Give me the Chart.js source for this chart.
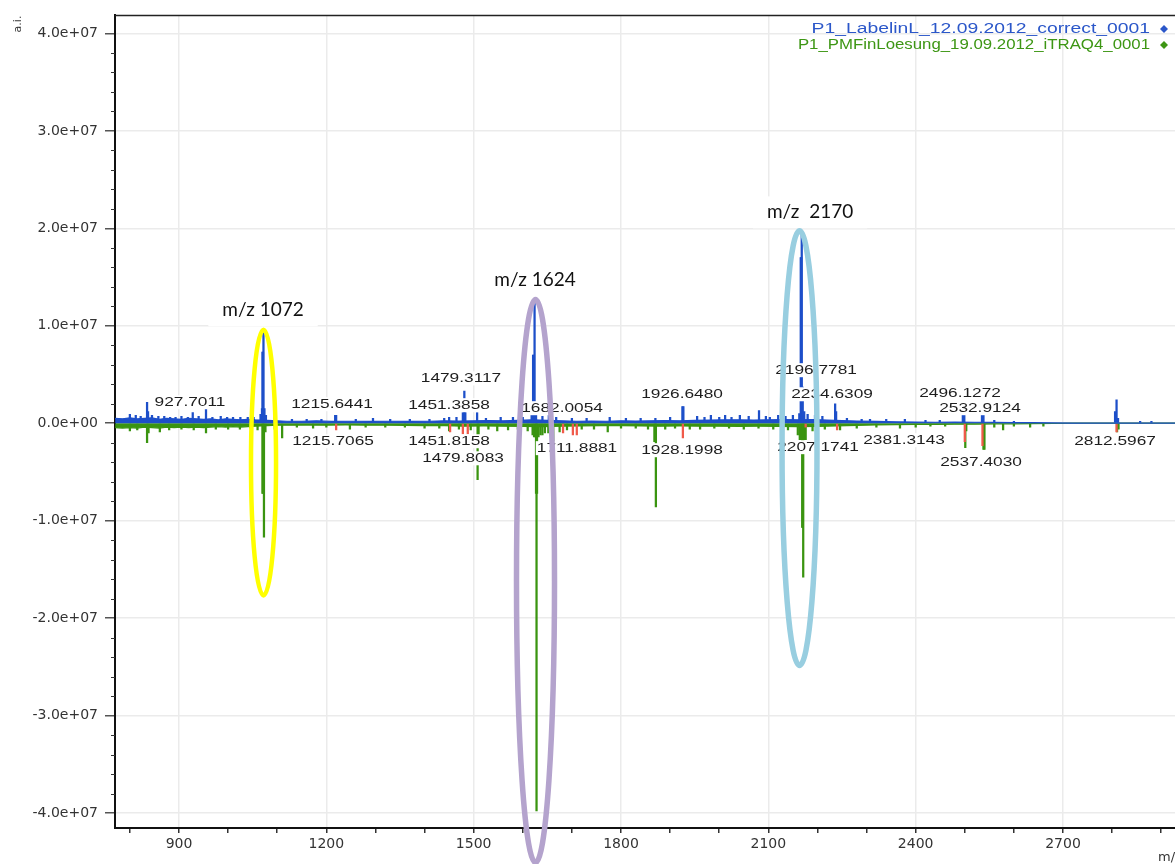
<!DOCTYPE html>
<html>
<head>
<meta charset="utf-8">
<script src="https://cdn.jsdelivr.net/npm/chart.js@4.4.1/dist/chart.umd.min.js"></script>
<style>
  html, body { margin: 0; padding: 0; background: #fff; }
  #wrap { width: 1175px; height: 864px; position: relative; }
</style>
</head>
<body>
<div id="wrap"><canvas id="spec"></canvas></div>
<script>
/* ===== Mirrored MALDI spectra ===== */

const seriesNames = ['P1_LabelinL_12.09.2012_correct_0001', 'P1_PMFinLoesung_19.09.2012_iTRAQ4_0001'];

// axis ticks
const xTickValues = [800, 900, 1000, 1100, 1200, 1300, 1400, 1500, 1600, 1700, 1800, 1900, 2000, 2100, 2200, 2300, 2400, 2500, 2600, 2700, 2800, 2900];
const yMajorTicks = [-4e7, -3e7, -2e7, -1e7, 0, 1e7, 2e7, 3e7, 4e7];
const yMinorPerMajor = 5;

// blue spectrum (upper), baseline envelope
const blueBaseMz = [770, 785, 800, 815, 830, 845, 860, 875, 890, 905, 920, 935, 950, 965, 980, 995, 1010, 1025, 1040, 1055, 1080, 1100, 1120, 1150, 1180, 1210, 1250, 1290, 1330, 1370, 1410, 1440, 1470, 1500, 1530, 1560, 1590, 1620, 1650, 1680, 1710, 1740, 1770, 1800, 1830, 1860, 1890, 1920, 1950, 1980, 2010, 2040, 2070, 2100, 2130, 2160, 2190, 2220, 2250, 2280, 2320, 2360, 2400, 2440, 2480, 2520, 2560, 2600, 2640, 2680, 2720, 2760, 2930];
const blueBaseInt = [5e5, 4.5e5, 5.5e5, 4.5e5, 5e5, 5.5e5, 4e5, 5e5, 4.5e5, 4e5, 5e5, 4.5e5, 4e5, 4.5e5, 3.5e5, 4.5e5, 4e5, 3.5e5, 4e5, 3.5e5, 3e5, 2.5e5, 2e5, 2e5, 2.5e5, 1.8e5, 2e5, 1.8e5, 2e5, 1.8e5, 2e5, 2.5e5, 2.2e5, 2.5e5, 2.8e5, 2.5e5, 3e5, 3.5e5, 3e5, 2.5e5, 2e5, 2.2e5, 2e5, 2.5e5, 2.2e5, 2.5e5, 2.8e5, 2.5e5, 3e5, 3.2e5, 3.5e5, 3.5e5, 3.2e5, 3.5e5, 3.8e5, 3.5e5, 3.8e5, 3.2e5, 2.8e5, 2.2e5, 1.8e5, 1.5e5, 1.2e5, 1e5, 1.2e5, 1e5, 0.8e5, 0.7e5, 0.5e5, 0.3e5, 0.1e5, 0, 0];

// blue spectrum peaks
const blueStickMz = [800, 812, 822, 835, 837, 845, 858, 870, 882, 893, 905, 918, 928, 940, 955, 968, 985, 998, 1010, 1025, 1040, 1052, 1066, 1069, 1070, 1071, 1072, 1074, 1077, 1095, 1130, 1160, 1190, 1218, 1220, 1260, 1295, 1330, 1370, 1410, 1440, 1450, 1465, 1478, 1481, 1483, 1507, 1525, 1555, 1580, 1600, 1618, 1621, 1622, 1624, 1627, 1640, 1653, 1668, 1700, 1730, 1777, 1810, 1840, 1870, 1900, 1925, 1927, 1955, 1970, 1983, 2000, 2012, 2025, 2042, 2060, 2081, 2095, 2103, 2120, 2135, 2150, 2163, 2166, 2167, 2168, 2170, 2173, 2180, 2195, 2210, 2236, 2238, 2260, 2290, 2307, 2340, 2378, 2420, 2449, 2496, 2499, 2535, 2538, 2560, 2600, 2806, 2809, 2812, 2857, 2880];
const blueStickInt = [9e5, 8e5, 7e5, 2.15e6, 1.2e6, 8e5, 7e5, 7e5, 6e5, 6e5, 7e5, 6e5, 1.1e6, 7e5, 1.5e6, 6e5, 7e5, 6e5, 6e5, 6e5, 6e5, 6e5, 9e5, 1.5e6, 7.3e6, 7.3e6, 9.3e6, 1.5e6, 8e5, 8e5, 4e5, 4e5, 4e5, 8e5, 8e5, 4e5, 5e5, 4e5, 4e5, 4e5, 5e5, 6e5, 6e5, 1.1e6, 3.3e6, 1.1e6, 1.1e6, 5e5, 6e5, 6e5, 6e5, 9e5, 7e6, 7e6, 1.27e7, 1.2e6, 7e5, 9e5, 6e5, 5e5, 5e5, 6e5, 5e5, 5e5, 5e5, 6e5, 1.7e6, 1.7e6, 7e5, 6e5, 8e5, 6e5, 8e5, 6e5, 8e5, 7e5, 1.3e6, 7e5, 6e5, 8e5, 7e5, 8e5, 1e6, 1.7e7, 1.7e7, 1.98e7, 3.7e6, 1.2e6, 9e5, 8e5, 7e5, 2e6, 1.2e6, 5e5, 4e5, 4e5, 4e5, 4e5, 3e5, 3e5, 8e5, 8e5, 8e5, 8e5, 3e5, 2e5, 1.2e6, 2.4e6, 5e5, 2e5, 2e5];

// green spectrum (mirrored, lower), baseline envelope
const greenBaseMz = [770, 785, 800, 815, 830, 845, 860, 875, 890, 905, 920, 935, 950, 965, 980, 995, 1010, 1025, 1040, 1055, 1080, 1100, 1130, 1160, 1200, 1240, 1280, 1320, 1360, 1400, 1440, 1480, 1520, 1560, 1600, 1640, 1680, 1720, 1760, 1800, 1840, 1880, 1920, 1960, 2000, 2040, 2080, 2120, 2160, 2200, 2240, 2280, 2320, 2360, 2400, 2440, 2480, 2520, 2560, 2600, 2640, 2680, 2720, 2930];
const greenBaseInt = [-4.5e5, -5e5, -4.5e5, -5e5, -4e5, -4.5e5, -5e5, -4e5, -4.5e5, -4e5, -4.5e5, -4e5, -4.5e5, -4e5, -3.5e5, -4e5, -3.5e5, -4e5, -3.5e5, -3e5, -2.5e5, -2e5, -2e5, -1.8e5, -2e5, -1.8e5, -2e5, -2e5, -2.2e5, -2.5e5, -2.5e5, -3e5, -2.8e5, -3e5, -3.2e5, -3.5e5, -3e5, -2.8e5, -2.5e5, -2.5e5, -2.8e5, -3e5, -2.8e5, -3e5, -3e5, -3.2e5, -3e5, -3.2e5, -3.5e5, -3.2e5, -2.8e5, -2.2e5, -1.8e5, -1.5e5, -1.2e5, -1.2e5, -1e5, -1e5, -0.8e5, -0.6e5, -0.4e5, -0.2e5, 0, 0];

// green spectrum peaks
const greenStickMz = [800, 815, 835, 838, 861, 880, 905, 930, 955, 975, 1000, 1024, 1045, 1060, 1070, 1071, 1073, 1076, 1095, 1110, 1140, 1173, 1200, 1248, 1280, 1320, 1360, 1400, 1430, 1450, 1470, 1494, 1508, 1510, 1530, 1548, 1570, 1590, 1610, 1620, 1623, 1626, 1627, 1628, 1629, 1632, 1636, 1640, 1645, 1652, 1660, 1662, 1675, 1690, 1720, 1745, 1773, 1800, 1830, 1855, 1868, 1870, 1871, 1890, 1910, 1940, 1961, 1990, 2020, 2050, 2080, 2110, 2140, 2160, 2164, 2166, 2169, 2170, 2171, 2173, 2176, 2190, 2215, 2246, 2280, 2320, 2368, 2400, 2430, 2460, 2501, 2503, 2538, 2540, 2560, 2578, 2600, 2633, 2660, 2810, 2813];
const greenStickInt = [-8e5, -7e5, -2e6, -1e6, -9e5, -7e5, -6e5, -7e5, -1e6, -6e5, -6e5, -6e5, -5e5, -7e5, -7.2e6, -7.2e6, -1.17e7, -9e5, -6e5, -1.5e6, -4e5, -5e5, -4e5, -6e5, -4e5, -4e5, -4e5, -5e5, -5e5, -8e5, -6e5, -7e5, -5.8e6, -1.3e6, -6e5, -8e5, -7e5, -6e5, -8e5, -1.2e6, -1.4e6, -1.4e6, -7.2e6, -3.98e7, -7.2e6, -1.4e6, -1.2e6, -1.2e6, -1e6, -1e6, -4.5e6, -4.5e6, -9e5, -7e5, -6e5, -6e5, -9e5, -5e5, -5e5, -6e5, -1.9e6, -1.9e6, -8.6e6, -6e5, -5e5, -6e5, -6e5, -5e5, -5e5, -6e5, -5e5, -6e5, -7e5, -1.2e6, -1.7e6, -1.7e6, -1.07e7, -1.07e7, -1.58e7, -1.7e6, -1.7e6, -8e5, -6e5, -7e5, -5e5, -4e5, -5e5, -4e5, -3e5, -3e5, -2.5e6, -8e5, -2.7e6, -2.7e6, -4e5, -7e5, -3e5, -4e5, -3e5, -9e5, -6e5];

// red (unmatched) peaks
const redStickMz = [1220, 1452, 1478, 1488, 1682, 1702, 1710, 1926, 2176, 2240, 2500, 2536, 2809];
const redStickInt = [-7e5, -9e5, -1.1e6, -1.1e6, -1e6, -1.2e6, -1.2e6, -1.5e6, -4e5, -7e5, -1.9e6, -2.3e6, -9e5];

// peak annotations
const peakLabelText = ['927.7011', '1215.6441', '1215.7065', '1479.3117', '1451.3858', '1451.8158', '1479.8083', '1682.0054', '1711.8881', '1926.6480', '1928.1998', '2196.7781', '2234.6309', '2207.1741', '2381.3143', '2496.1272', '2532.9124', '2537.4030', '2812.5967'];
const peakLabelMz = [922.4, 1211.6, 1213.6, 1474.2, 1449.8, 1449.8, 1478.3, 1680.0, 1710.4, 1924.3, 1924.3, 2197.1, 2229.7, 2201.2, 2376.3, 2490.3, 2531.0, 2533.1, 2806.0];
const peakLabelInt = [2.15e6, 1.95e6, -1.85e6, 4.6e6, 1.85e6, -1.85e6, -3.6e6, 1.54e6, -2.56e6, 2.97e6, -2.77e6, 5.44e6, 2.97e6, -2.46e6, -1.74e6, 3.08e6, 1.54e6, -4.0e6, -1.85e6];

// highlighted regions
const hlText = ['m/z 1072', 'm/z 1624', 'm/z  2170'];
const hlTextMz = [1071.1, 1625, 2184.9];
const hlTextInt = [1.159e7, 1.467e7, 2.164e7];
const hlMz = [1072.1, 1625.9, 2163.5];
const hlInt = [-4.05e6, -1.62e7, -2.56e6];
const hlRxMz = [25.5, 38.7, 35.6];
const hlRyInt = [1.364e7, 2.89e7, 2.23e7];
const hlColor = ['#ffff00', '#b4a3cd', '#98cee0'];

const BLUE = '#1d4fc9';
const GREEN = '#3a9410';
const RED = '#f05a4a';

function pts(xs, ys) {
  return xs.map((x, i) => ({ x: x, y: ys[i] }));
}

// y ticks: majors plus evenly split minor steps
const yTickValues = [];
for (let i = 0; i < yMajorTicks.length; i++) {
  yTickValues.push(yMajorTicks[i]);
  if (i < yMajorTicks.length - 1) {
    const step = (yMajorTicks[i + 1] - yMajorTicks[i]) / yMinorPerMajor;
    for (let k = 1; k < yMinorPerMajor; k++) yTickValues.push(yMajorTicks[i] + k * step);
  }
}

function fmtExp(v) {
  if (Math.abs(v) < 1) return '0.0e+00';
  return v.toExponential(1).replace(/e([+-])(\d)$/, 'e$10$2');
}

function isMajorY(v) { return yMajorTicks.includes(v); }
function isMajorX(v) { return Math.round(v) % 300 === 0; }

function stretchText(ctx, text, x, y, sx, align) {
  ctx.save();
  ctx.translate(x, y);
  ctx.scale(sx, 1);
  ctx.textAlign = align;
  ctx.textBaseline = 'middle';
  ctx.fillText(text, 0, 0);
  ctx.restore();
}

// short minor ticks on the y axis + top frame line
const framePlugin = {
  id: 'frame',
  afterDraw(chart) {
    const ctx = chart.ctx, y = chart.scales.y, a = chart.chartArea;
    ctx.save();
    ctx.strokeStyle = '#333';
    ctx.lineWidth = 1;
    y.ticks.forEach(t => {
      if (isMajorY(t.value)) return;
      const py = Math.round(y.getPixelForValue(t.value)) + 0.5;
      ctx.beginPath();
      ctx.moveTo(a.left - 4, py);
      ctx.lineTo(a.left, py);
      ctx.stroke();
    });
    ctx.strokeStyle = '#222';
    ctx.lineWidth = 1.5;
    ctx.beginPath();
    ctx.moveTo(a.left, a.top);
    ctx.lineTo(a.right, a.top);
    ctx.stroke();
    ctx.restore();
  }
};

// m/z labels on peaks, with white background
const peakLabelPlugin = {
  id: 'peakLabels',
  afterDatasetsDraw(chart) {
    const ctx = chart.ctx, xs = chart.scales.x, ys = chart.scales.y;
    ctx.save();
    ctx.font = '13px "Liberation Sans", Arial, sans-serif';
    const sx = 1.33;
    peakLabelText.forEach((t, i) => {
      const px = xs.getPixelForValue(peakLabelMz[i]);
      const py = ys.getPixelForValue(peakLabelInt[i]);
      const w = ctx.measureText(t).width * sx;
      ctx.fillStyle = '#fff';
      ctx.fillRect(px - w / 2 - 1, py - 7, w + 2, 14);
      ctx.fillStyle = '#1e1e1e';
      stretchText(ctx, t, px, py + 0.5, sx, 'center');
    });
    ctx.restore();
  }
};

// ellipses, callouts, legend and axis names
const overlayPlugin = {
  id: 'overlay',
  afterDraw(chart) {
    const ctx = chart.ctx, xs = chart.scales.x, ys = chart.scales.y;
    ctx.save();
    // callout text
    ctx.font = '19px Lato, "Open Sans", sans-serif';
    hlText.forEach((t, i) => {
      const px = xs.getPixelForValue(hlTextMz[i]);
      const py = ys.getPixelForValue(hlTextInt[i]);
      const w = ctx.measureText(t).width;
      ctx.fillStyle = '#fff';
      ctx.fillRect(px - w / 2 - 14, py - 16, w + 28, 32);
      ctx.fillStyle = '#111';
      ctx.textAlign = 'center';
      ctx.textBaseline = 'middle';
      ctx.fillText(t, px, py);
    });
    // ellipses
    hlMz.forEach((m, i) => {
      const cx = xs.getPixelForValue(m);
      const cy = ys.getPixelForValue(hlInt[i]);
      const rx = Math.abs(xs.getPixelForValue(m + hlRxMz[i]) - cx);
      const ry = Math.abs(ys.getPixelForValue(hlInt[i] + hlRyInt[i]) - cy);
      ctx.strokeStyle = hlColor[i];
      ctx.lineWidth = i === 0 ? 4.5 : 5.5;
      ctx.beginPath();
      ctx.ellipse(cx, cy, rx, ry, 0, 0, Math.PI * 2);
      ctx.stroke();
    });
    // legend
    ctx.font = '14px "Liberation Sans", Arial, sans-serif';
    const legY = [29, 45];
    const legCol = ['#2b57c9', '#3d9614'];
    const legSx = [1.38, 1.2];
    [0, 2].forEach((di, i) => {
      ctx.fillStyle = legCol[i];
      stretchText(ctx, chart.data.datasets[di].label, 1150, legY[i], legSx[i], 'right');
      ctx.beginPath();
      ctx.moveTo(1164, legY[i] - 4);
      ctx.lineTo(1168, legY[i]);
      ctx.lineTo(1164, legY[i] + 4);
      ctx.lineTo(1160, legY[i]);
      ctx.closePath();
      ctx.fill();
    });
    // axis names
    ctx.fillStyle = '#333';
    ctx.font = '11px "DejaVu Sans", sans-serif';
    ctx.save();
    ctx.translate(18, 24);
    ctx.rotate(-Math.PI / 2);
    ctx.textAlign = 'center';
    ctx.textBaseline = 'middle';
    ctx.fillText('a.i.', 0, 0);
    ctx.restore();
    ctx.font = '13px "DejaVu Sans", sans-serif';
    ctx.textAlign = 'left';
    ctx.textBaseline = 'middle';
    ctx.fillText('m/z', 1158, 858);
    ctx.restore();
  }
};

const tickFont = { family: '"DejaVu Sans", sans-serif', size: 14 };

new Chart(document.getElementById('spec'), {
  type: 'line',
  data: {
    datasets: [
      { type: 'line', label: seriesNames[0], data: pts(blueBaseMz, blueBaseInt), borderColor: BLUE, backgroundColor: BLUE, borderWidth: 1.2, pointRadius: 0, fill: 'origin', tension: 0, order: 1 },
      { type: 'bar', label: 'blue peaks', data: pts(blueStickMz, blueStickInt), backgroundColor: BLUE, barThickness: 1.6, grouped: false, borderWidth: 0, order: 2 },
      { type: 'line', label: seriesNames[1], data: pts(greenBaseMz, greenBaseInt), borderColor: GREEN, backgroundColor: GREEN, borderWidth: 1.2, pointRadius: 0, fill: 'origin', tension: 0, order: 5 },
      { type: 'bar', label: 'green peaks', data: pts(greenStickMz, greenStickInt), backgroundColor: GREEN, barThickness: 1.6, grouped: false, borderWidth: 0, order: 4 },
      { type: 'bar', label: 'red peaks', data: pts(redStickMz, redStickInt), backgroundColor: RED, barThickness: 1.6, grouped: false, borderWidth: 0, order: 3 }
    ]
  },
  options: {
    responsive: true,
    maintainAspectRatio: false,
    animation: false,
    layout: { padding: { top: 15, right: 0, bottom: 0, left: 0 } },
    plugins: { legend: { display: false }, tooltip: { enabled: false } },
    scales: {
      x: {
        type: 'linear',
        min: 769.7,
        max: 2928,
        offset: false,
        afterFit: s => { s.height = 36; },
        afterBuildTicks: s => { s.ticks = xTickValues.map(v => ({ value: v })); },
        border: { color: '#111', width: 2 },
        grid: {
          offset: false,
          color: c => (c.tick && isMajorX(c.tick.value)) ? '#ebebeb' : 'rgba(0,0,0,0)',
          tickColor: '#333',
          tickLength: 5,
          lineWidth: 1.5
        },
        ticks: {
          autoSkip: false,
          maxRotation: 0,
          padding: 3,
          color: '#333',
          font: tickFont,
          callback: v => isMajorX(v) ? String(Math.round(v)) : ''
        }
      },
      y: {
        type: 'linear',
        min: -4.154e7,
        max: 4.185e7,
        afterFit: s => { s.width = 115; },
        afterBuildTicks: s => { s.ticks = yTickValues.map(v => ({ value: v })); },
        border: { color: '#111', width: 2 },
        grid: {
          color: c => (c.tick && isMajorY(c.tick.value)) ? '#ebebeb' : 'rgba(0,0,0,0)',
          tickColor: c => (c.tick && isMajorY(c.tick.value)) ? '#555' : 'rgba(0,0,0,0)',
          tickLength: 10,
          lineWidth: 1.5
        },
        ticks: {
          autoSkip: false,
          padding: 7,
          color: '#333',
          font: tickFont,
          callback: v => isMajorY(v) ? fmtExp(v) : ''
        }
      }
    }
  },
  plugins: [framePlugin, peakLabelPlugin, overlayPlugin]
});
</script>
</body>
</html>
